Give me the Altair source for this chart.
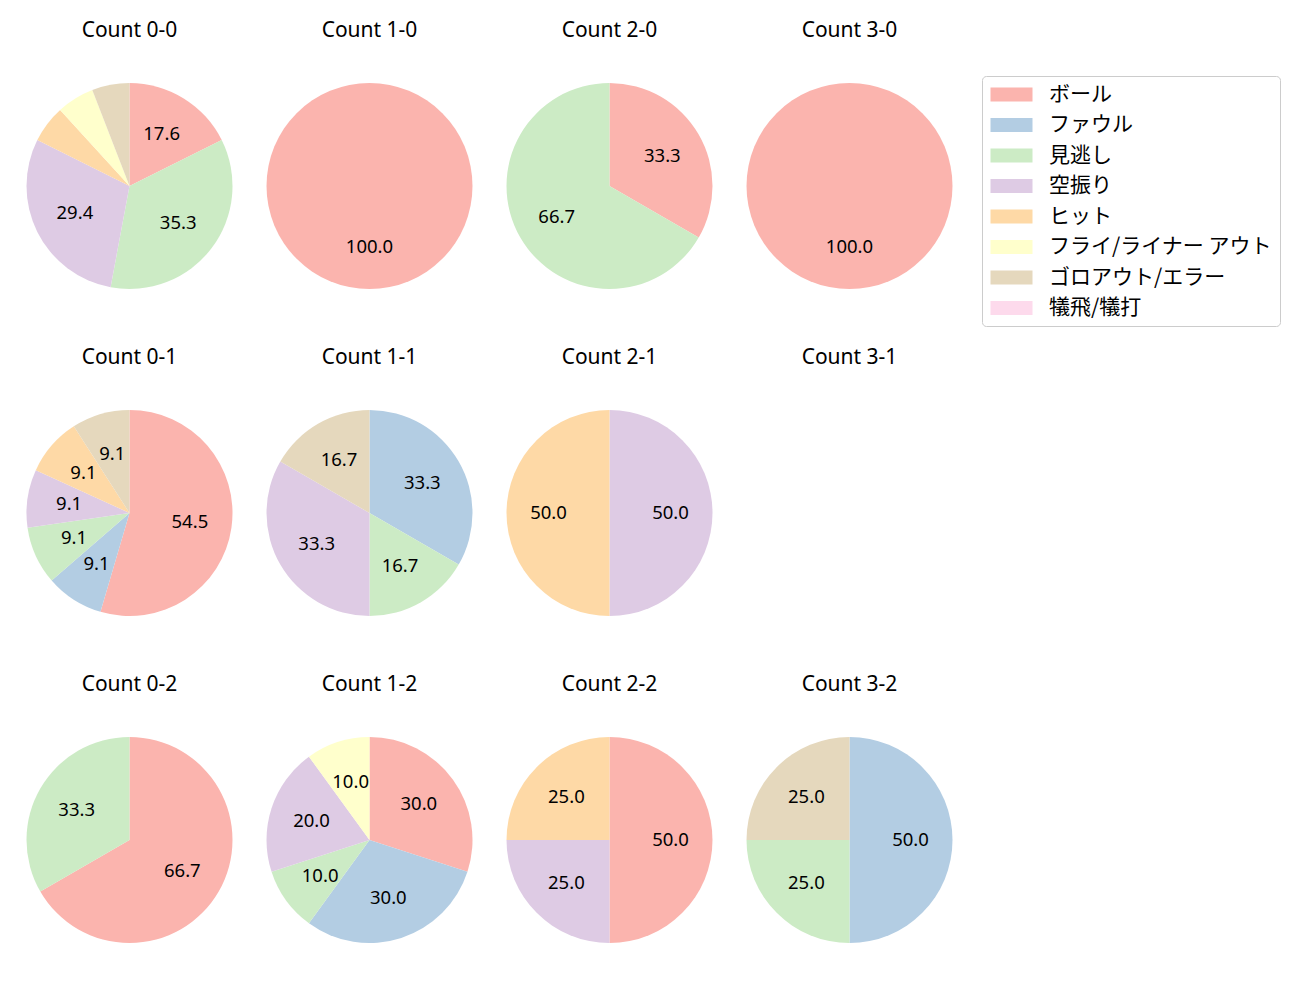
import altair as alt
import pandas as pd

counts = ["0-0", "1-0", "2-0", "3-0", "0-1", "1-1", "2-1", "3-1", "0-2", "1-2", "2-2", "3-2"]
categories = ["ボール", "ファウル", "見逃し", "空振り", "ヒット",
              "フライ/ライナー アウト", "ゴロアウト/エラー", "犠飛/犠打"]
colors = ["#fbb4ae", "#b3cde3", "#ccebc5", "#decbe4", "#fed9a6",
          "#ffffcc", "#e5d8bd", "#fddaec"]

# pitch results per count (order follows `counts`)
ball    = [3, 1, 1, 1, 6, 0, 0, 0, 2, 3, 2, 0]
foul    = [0, 0, 0, 0, 1, 2, 0, 0, 0, 3, 0, 2]
looking = [6, 0, 2, 0, 1, 1, 0, 0, 1, 1, 0, 1]
swing   = [5, 0, 0, 0, 1, 2, 1, 0, 0, 2, 1, 0]
hit     = [1, 0, 0, 0, 1, 0, 1, 0, 0, 0, 1, 0]
fly     = [1, 0, 0, 0, 0, 0, 0, 0, 0, 1, 0, 0]
grounder = [1, 0, 0, 0, 1, 1, 0, 0, 0, 0, 0, 1]
sac     = [0, 0, 0, 0, 0, 0, 0, 0, 0, 0, 0, 0]
series = [ball, foul, looking, swing, hit, fly, grounder, sac]

rows = []
for ci, c in enumerate(counts):
    total = sum(s[ci] for s in series)
    for k, (cat, s) in enumerate(zip(categories, series)):
        v = s[ci]
        if v > 0:
            pct = v / total * 100
            rows.append({"count": c, "cat": cat, "idx": k, "value": v,
                         "label": f"{pct:.1f}" if pct >= 8 else ""})
df = pd.DataFrame(rows)

LATIN = "Noto Sans"
CJK = "Noto Sans CJK JP"


def pie(c):
    base = alt.Chart(df).transform_filter(alt.datum["count"] == c).encode(
        theta=alt.Theta("value:Q", stack=True),
        order=alt.Order("idx:Q"),
    )
    arc = base.mark_arc(outerRadius=103).encode(
        color=alt.Color("cat:N", scale=alt.Scale(domain=categories, range=colors),
                        sort=categories, legend=alt.Legend(title=None)),
    )
    txt = base.mark_text(radius=61, fontSize=18.5, font=LATIN, color="black",
                         baseline="middle", align="center").encode(text="label:N")
    return alt.layer(arc, txt).properties(
        width=153, height=240,
        title=alt.TitleParams(f"Count {c}", fontSize=21, font=LATIN, fontWeight="normal",
                              baseline="bottom", offset=4.5, anchor="middle", color="black"),
    )


panels = [pie(c) for c in counts]

chart = alt.concat(*panels, columns=4, spacing=87, bounds="flush")
chart = chart.properties(padding={"left": 26, "top": 19, "right": 5, "bottom": 5}).configure_view(
    stroke=None
).configure_legend(
    orient="none", legendX=929, legendY=10,
    labelFont=CJK, labelFontSize=21, labelColor="black", labelLimit=400,
    symbolType="M-3,-1H3V1H-3Z", symbolSize=196, symbolStrokeWidth=0,
    symbolOffset=11, labelOffset=27, rowPadding=8.5, padding=8,
    strokeColor="#cccccc", cornerRadius=4, fillColor="white",
).resolve_scale(color="shared")

chart.save("out.html", embed_options={"renderer": "svg", "actions": False})
